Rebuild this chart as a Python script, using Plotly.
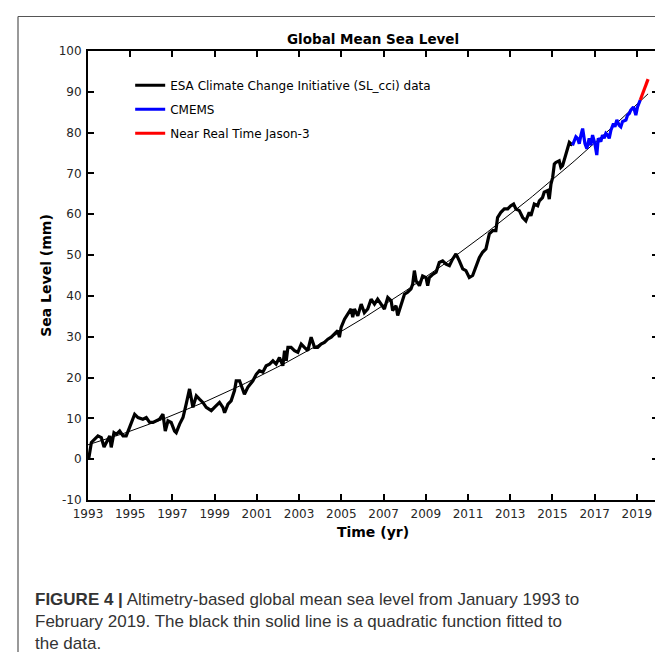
import numpy as np
import plotly.graph_objects as go

# ---------------- data ----------------
cci_year = [1993.03, 1993.16, 1993.47, 1993.63, 1993.76, 1993.87, 1994.03, 1994.10, 1994.23, 1994.34,
            1994.50, 1994.66, 1994.81, 1994.97, 1995.21, 1995.37, 1995.60, 1995.76, 1995.92, 1996.08,
            1996.23, 1996.39, 1996.55, 1996.66, 1996.79, 1996.94, 1997.10, 1997.18, 1997.34, 1997.50,
            1997.65, 1997.81, 1997.97, 1998.13, 1998.28, 1998.44, 1998.60, 1998.84, 1998.99, 1999.23,
            1999.39, 1999.47, 1999.63, 1999.78, 1999.94, 2000.02, 2000.18, 2000.34, 2000.41, 2000.57,
            2000.81, 2000.97, 2001.12, 2001.28, 2001.44, 2001.60, 2001.76, 2001.91, 2002.07, 2002.23,
            2002.31, 2002.39, 2002.47, 2002.62, 2002.78, 2002.94, 2003.10, 2003.25, 2003.41, 2003.57,
            2003.73, 2003.88, 2004.04, 2004.20, 2004.36, 2004.52, 2004.67, 2004.83, 2004.91, 2004.99,
            2005.15, 2005.30, 2005.46, 2005.54, 2005.62, 2005.78, 2005.94, 2006.09, 2006.25, 2006.41,
            2006.57, 2006.72, 2006.88, 2007.04, 2007.20, 2007.36, 2007.43, 2007.59, 2007.67, 2007.83,
            2007.99, 2008.14, 2008.30, 2008.38, 2008.46, 2008.54, 2008.70, 2008.85, 2009.01, 2009.09,
            2009.17, 2009.33, 2009.49, 2009.64, 2009.80, 2009.96, 2010.12, 2010.27, 2010.43, 2010.59,
            2010.75, 2010.90, 2011.06, 2011.22, 2011.38, 2011.54, 2011.69, 2011.85, 2012.01, 2012.17,
            2012.32, 2012.40, 2012.56, 2012.72, 2012.88, 2013.03, 2013.16, 2013.27, 2013.43, 2013.59,
            2013.74, 2013.90, 2013.98, 2014.14, 2014.30, 2014.38, 2014.53, 2014.61, 2014.77, 2014.85,
            2014.93, 2015.01, 2015.09, 2015.16, 2015.32, 2015.40, 2015.48, 2015.56, 2015.72, 2015.80,
            2015.95]
cci_gmsl = [0.0, 4.1, 5.7, 5.3, 3.0, 4.1, 5.7, 2.9, 6.5, 6.1,
            6.9, 5.7, 5.7, 7.8, 11.0, 10.2, 9.8, 10.2, 9.0, 9.0,
            9.4, 9.8, 11.0, 6.9, 9.4, 9.0, 6.9, 6.5, 8.6, 10.2,
            13.5, 17.2, 12.7, 15.5, 14.7, 13.9, 12.7, 11.9, 12.7, 13.9,
            12.7, 11.4, 13.5, 14.3, 16.8, 19.2, 19.2, 16.8, 15.9, 17.6,
            19.2, 20.8, 21.7, 21.3, 22.9, 23.3, 24.1, 23.3, 24.9, 22.9,
            26.6, 24.1, 27.4, 27.4, 26.6, 26.2, 28.2, 27.4, 26.6, 29.9,
            27.4, 27.4, 28.2, 28.6, 29.4, 29.9, 30.7, 31.5, 29.9, 32.3,
            34.3, 35.6, 36.8, 34.8, 36.8, 35.1, 38.0, 35.9, 36.8, 39.2,
            38.0, 39.2, 38.0, 36.8, 39.6, 38.8, 36.4, 37.6, 35.2, 38.0,
            40.4, 40.9, 41.7, 42.9, 46.2, 43.7, 42.5, 44.9, 44.5, 42.5,
            44.5, 45.3, 45.8, 48.2, 48.6, 47.8, 47.4, 49.0, 50.3, 48.6,
            46.6, 46.2, 44.5, 45.0, 47.0, 49.4, 50.7, 51.5, 55.2, 56.0,
            56.0, 59.2, 60.5, 61.3, 61.3, 62.1, 62.5, 61.3, 60.9, 59.2,
            58.4, 60.5, 59.6, 62.5, 62.1, 63.3, 64.1, 65.4, 65.8, 63.7,
            67.4, 69.0, 72.3, 72.7, 73.1, 71.5, 71.9, 73.5, 76.4, 77.6,
            76.9]

cmems_year = [2015.95, 2016.11, 2016.19, 2016.27, 2016.35, 2016.43, 2016.54, 2016.63, 2016.74, 2016.82,
              2016.90, 2017.01, 2017.10, 2017.17, 2017.29, 2017.37, 2017.45, 2017.53, 2017.61, 2017.69,
              2017.77, 2017.89, 2017.96, 2018.05, 2018.16, 2018.24, 2018.32, 2018.48, 2018.56, 2018.64,
              2018.71, 2018.84, 2018.95, 2019.03, 2019.16]
cmems_gmsl = [76.9, 79.0, 78.6, 77.3, 79.4, 81.0, 77.3, 76.1, 78.6, 76.9,
              79.4, 77.3, 74.5, 78.6, 77.8, 79.4, 78.6, 79.8, 79.4, 78.6,
              80.6, 82.2, 81.4, 83.1, 81.8, 81.4, 82.7, 83.1, 84.3, 84.7,
              85.5, 86.3, 84.3, 86.3, 88.0]

nrt_year = [2019.16, 2019.27, 2019.38, 2019.47, 2019.53]
nrt_gmsl = [88.0, 89.6, 91.2, 92.4, 93.1]

x_ticks = list(range(1993, 2020, 2))
y_ticks = list(range(-10, 101, 10))

series_names = ["ESA Climate Change Initiative (SL_cci) data", "CMEMS", "Near Real Time Jason-3"]

# quadratic fit to the altimetry data
fit_x = np.array(cci_year + cmems_year[1:])
fit_y = np.array(cci_gmsl + cmems_gmsl[1:])
coef = np.polyfit(fit_x - 1993, fit_y, 2)
fit_t = np.linspace(1993.0, nrt_year[-1], 200)
fit_v = np.polyval(coef, fit_t - 1993)

FONT = "DejaVu Sans"

fig = go.Figure()
fig.add_trace(go.Scatter(x=fit_t, y=fit_v, mode="lines", line=dict(color="black", width=1),
                         showlegend=False, hoverinfo="skip"))
fig.add_trace(go.Scatter(x=cci_year, y=cci_gmsl, mode="lines", name=series_names[0],
                         line=dict(color="black", width=3.2), legendgroup="a"))
fig.add_trace(go.Scatter(x=cmems_year, y=cmems_gmsl, mode="lines", name=series_names[1],
                         line=dict(color="rgb(0,0,255)", width=3.2), legendgroup="b"))
fig.add_trace(go.Scatter(x=nrt_year, y=nrt_gmsl, mode="lines", name=series_names[2],
                         line=dict(color="rgb(255,0,0)", width=3.2), legendgroup="c"))

axis_common = dict(showgrid=False, zeroline=False, showline=True, linecolor="black", linewidth=2,
                   mirror="ticks", ticks="inside", ticklen=6, tickwidth=2, tickcolor="black",
                   tickfont=dict(family=FONT, size=12, color="#262626"), ticklabelstandoff=2)

fig.update_xaxes(range=[1993, 2020], tickvals=x_ticks, ticktext=[str(v) for v in x_ticks],
                 title=dict(text="<b>Time (yr)</b>", font=dict(family=FONT, size=14, color="black"),
                            standoff=7),
                 **axis_common)
fig.update_yaxes(range=[-10, 100], tickvals=y_ticks, ticktext=[str(v) for v in y_ticks],
                 title=dict(text="<b>Sea Level (mm)</b>", font=dict(family=FONT, size=14, color="black"),
                            standoff=4),
                 **axis_common)

fig.update_layout(
    width=663, height=652,
    margin=dict(l=80, r=13, t=43, b=160),
    paper_bgcolor="white", plot_bgcolor="white",
    showlegend=True,
    legend=dict(x=0.074, y=0.956, xanchor="left", yanchor="top", bgcolor="rgba(0,0,0,0)",
                font=dict(family=FONT, size=12, color="black"), traceorder="grouped",
                tracegroupgap=5, itemwidth=30),
    annotations=[
        dict(text="<b>Global Mean Sea Level</b>", xref="paper", yref="paper", x=0.5, y=1.0,
             xanchor="center", yanchor="bottom", yshift=2, showarrow=False,
             font=dict(family=FONT, size=13.5, color="black")),
        dict(text="<b>FIGURE 4 |</b> Altimetry-based global mean sea level from January 1993 to<br>"
                  "February 2019. The black thin solid line is a quadratic function fitted to<br>"
                  "the data.",
             xref="paper", yref="paper", x=(25 - 80) / 570, y=(492 - 580) / 449,
             xanchor="left", yanchor="top", align="left", showarrow=False,
             font=dict(family="Liberation Sans", size=17, color="#333333")),
    ],
    shapes=[
        dict(type="line", xref="paper", yref="paper", x0=(10 - 80) / 570, x1=(663 - 80) / 570,
             y0=(492 - 8.5) / 449, y1=(492 - 8.5) / 449, line=dict(color="#555555", width=1.2)),
        dict(type="line", xref="paper", yref="paper", x0=(10 - 80) / 570, x1=(10 - 80) / 570,
             y0=(492 - 8.5) / 449, y1=(492 - 652) / 449, line=dict(color="#555555", width=1.2)),
    ],
)

fig.write_html("out.html")
